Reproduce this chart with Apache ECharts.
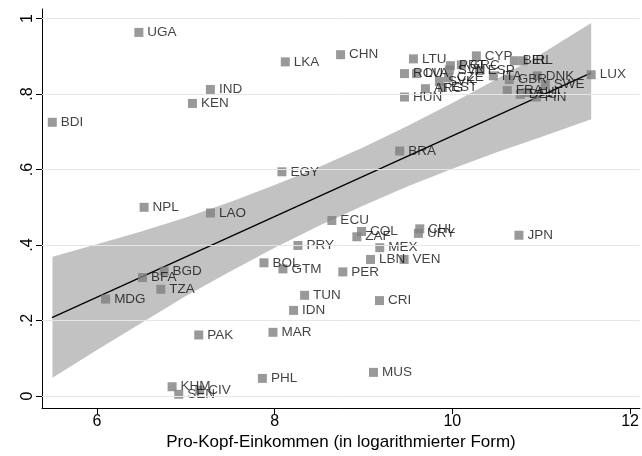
<!DOCTYPE html>
<html>
<head>
<meta charset="utf-8">
<script src="https://cdn.jsdelivr.net/npm/echarts@6/dist/echarts.min.js"></script>
<style>
html,body{margin:0;padding:0;background:#fff;}
#chart{width:642px;height:456px;}
</style>
</head>
<body>
<div id="chart"></div>
<script>
// ---- data ----
var countries = ['UGA','LKA','IND','KEN','BDI','CHN','NPL','LAO','EGY','BRA','ECU','PRY','BOL','COL','ZAF','CHL','URY','JPN','MEX','LBN','VEN','GTM','PER','TUN','IDN','CRI','PAK','MAR','PHL','MUS','KHM','SEN','CIV','BFA','BGD','TZA','MDG',
  'LTU','CYP','PRT','GRC','SVN','ESP','ITA','ROU','LVA','CZE','SVK','EST','ARG','HUN','BEL','IRL','DNK','LUX','SWE','GBR','FRA','DEU','AUT','FIN'];
var income = [6.472,8.12,7.277,7.075,5.498,8.742,6.531,7.278,8.082,9.407,8.644,8.262,7.88,8.978,8.925,9.633,9.618,10.749,9.183,9.079,9.457,8.093,8.767,8.337,8.213,9.18,7.146,7.981,7.862,9.112,6.846,6.921,7.157,6.513,6.756,6.719,6.098,
  9.562,10.27,9.978,10.101,9.966,10.303,10.461,9.461,9.596,9.955,9.854,9.888,9.697,9.461,10.697,10.798,10.955,11.562,11.045,10.64,10.618,10.764,10.843,10.944];
var index = [0.963,0.885,0.812,0.775,0.725,0.904,0.500,0.485,0.594,0.649,0.465,0.399,0.353,0.436,0.422,0.443,0.431,0.426,0.393,0.362,0.362,0.337,0.329,0.267,0.227,0.253,0.162,0.169,0.047,0.063,0.025,0.005,0.016,0.314,0.331,0.283,0.257,
  0.893,0.901,0.875,0.877,0.864,0.862,0.848,0.854,0.854,0.843,0.833,0.817,0.814,0.792,0.888,0.888,0.848,0.851,0.825,0.838,0.809,0.799,0.804,0.792];

var fitX = [5.494, 11.562];
var fitY = [0.208, 0.856];

var bandX  = [5.5, 6, 6.5, 7, 7.5, 8, 8.5, 9, 9.5, 10, 10.5, 11, 11.562];
var bandLo = [0.049,0.122,0.194,0.265,0.330,0.393,0.451,0.505,0.556,0.602,0.646,0.686,0.733];
var bandHi = [0.369,0.402,0.436,0.473,0.514,0.559,0.607,0.659,0.716,0.776,0.840,0.906,0.988];

var xTicks = [6, 8, 10, 12];
var yTicks = [0, 0.2, 0.4, 0.6, 0.8, 1];
var yTickLabels = ['0', '.2', '.4', '.6', '.8', '1'];
var xTitle = 'Pro-Kopf-Einkommen (in logarithmierter Form)';

// ---- build ----
var pts = countries.map(function (c, i) { return { name: c, value: [income[i], index[i]] }; });
var fitData = fitX.map(function (x, i) { return [x, fitY[i]]; });
var gridLines = yTicks.map(function (v) { return { yAxis: v }; });

var chart = echarts.init(document.getElementById('chart'), null, { renderer: 'canvas' });
var FONT = 'Liberation Sans, Arial, sans-serif';

chart.setOption({
  animation: false,
  backgroundColor: '#ffffff',
  grid: { left: 42, right: 1, top: 9, bottom: 46, containLabel: false },
  xAxis: {
    type: 'value', min: 5.382, max: 12.11,
    name: xTitle, nameLocation: 'middle', nameGap: 20,
    nameTextStyle: { fontFamily: FONT, fontSize: 17, color: '#000' },
    axisLine: { show: true, onZero: false, lineStyle: { color: '#000', width: 1 } },
    axisTick: { show: true, length: 6, lineStyle: { color: '#000' }, customValues: xTicks },
    axisLabel: { fontFamily: FONT, fontSize: 16, color: '#000', margin: 5, customValues: xTicks },
    splitLine: { show: false }
  },
  yAxis: {
    type: 'value', min: -0.0316, max: 1.025,
    axisLine: { show: true, onZero: false, lineStyle: { color: '#000', width: 1 } },
    axisTick: { show: true, length: 6, lineStyle: { color: '#000' }, customValues: yTicks },
    axisLabel: {
      fontFamily: FONT, fontSize: 16, color: '#000', rotate: 90, margin: 6, customValues: yTicks,
      formatter: function (v) {
        for (var i = 0; i < yTicks.length; i++) { if (Math.abs(yTicks[i] - v) < 1e-9) return yTickLabels[i]; }
        return '';
      }
    },
    splitLine: { show: false }
  },
  series: [
    {
      type: 'line', data: [], z: 0, silent: true,
      markLine: {
        silent: true, symbol: ['none', 'none'], label: { show: false },
        lineStyle: { color: '#e6e6e6', width: 1, type: 'solid' },
        data: gridLines
      }
    },
    {
      type: 'custom', z: 1, silent: true, data: [0],
      renderItem: function (params, api) {
        var p = [];
        for (var i = 0; i < bandX.length; i++) p.push(api.coord([bandX[i], bandHi[i]]));
        for (var j = bandX.length - 1; j >= 0; j--) p.push(api.coord([bandX[j], bandLo[j]]));
        return { type: 'polygon', shape: { points: p }, style: { fill: '#c2c2c2', stroke: null } };
      }
    },
    {
      type: 'line', z: 2, data: fitData, symbol: 'none', silent: true,
      lineStyle: { color: '#000', width: 1.3 }
    },
    {
      type: 'scatter', z: 3, data: pts, symbol: 'rect', symbolSize: 9,
      itemStyle: { color: '#808080' },
      label: {
        show: true, position: 'right', distance: 4, formatter: '{b}',
        fontFamily: FONT, fontSize: 13.5, color: '#111'
      },
      labelLayout: { hideOverlap: false }
    }
  ]
});
</script>
</body>
</html>
